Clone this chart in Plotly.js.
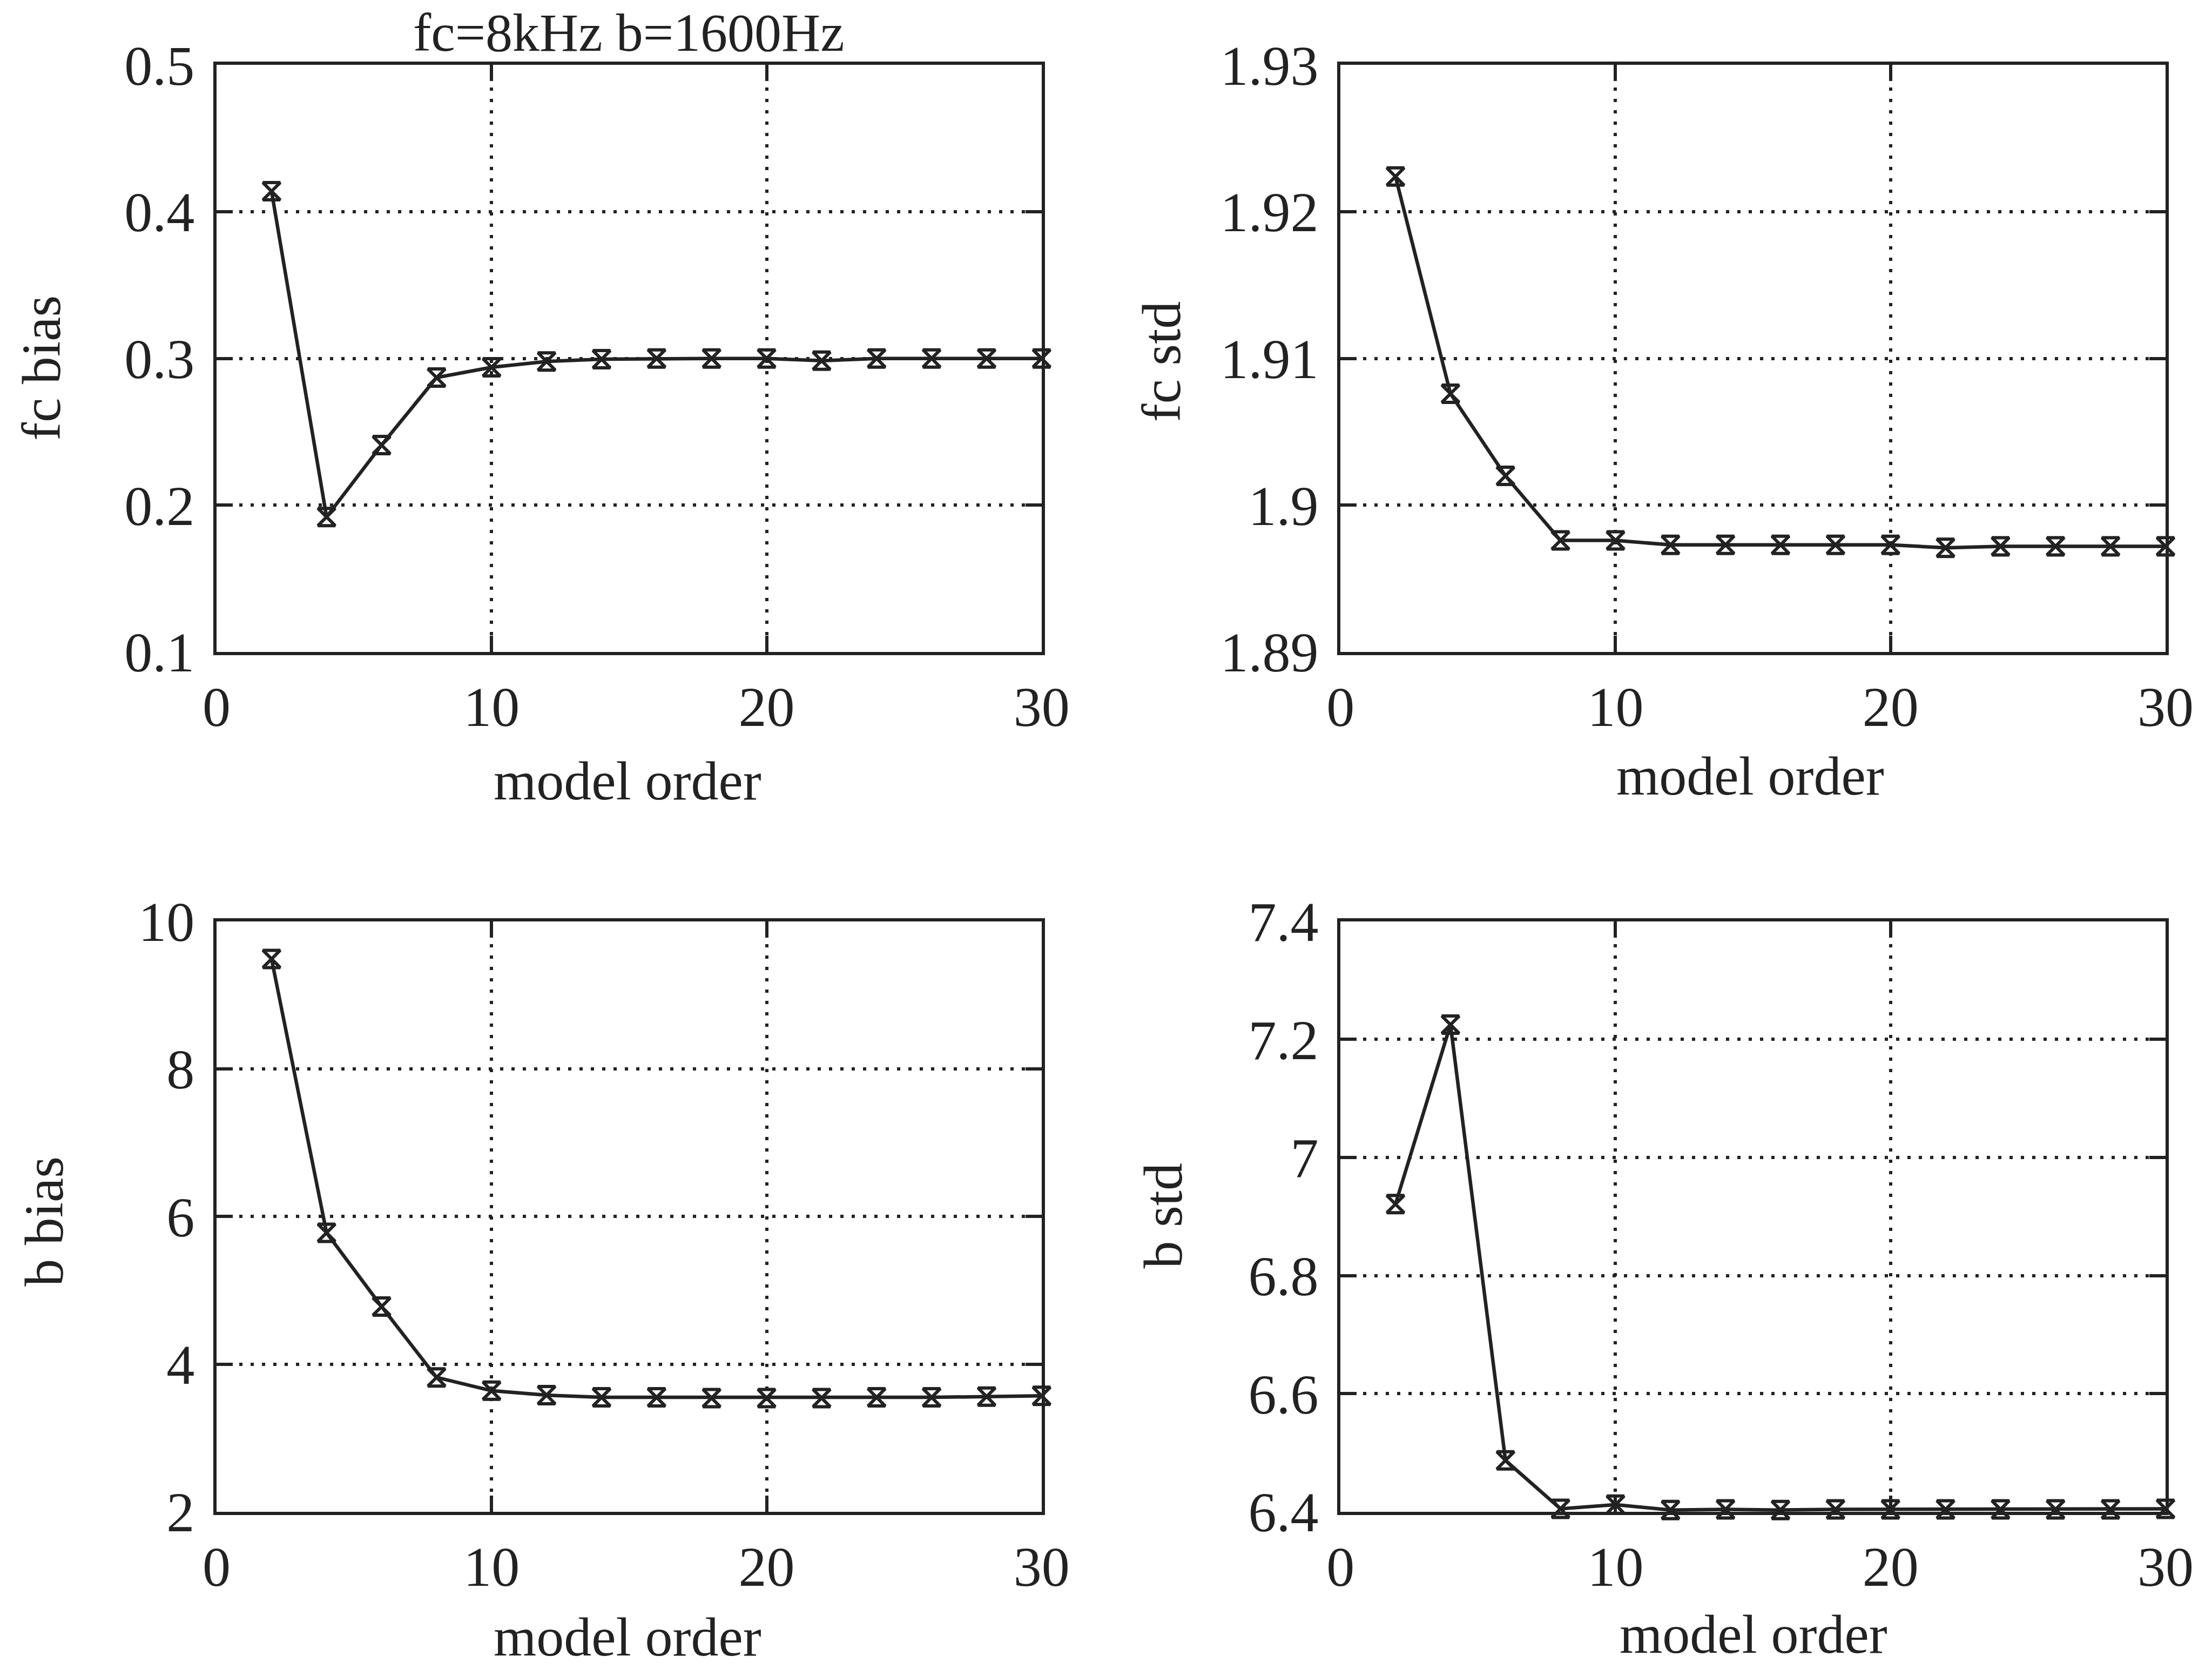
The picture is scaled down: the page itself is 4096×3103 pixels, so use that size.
<!DOCTYPE html>
<html>
<head>
<meta charset="utf-8">
<script src="https://cdn.plot.ly/plotly-3.0.1.min.js"></script>
<style>
  html, body { margin: 0; padding: 0; background: #ffffff; }
  #chart { width: 4096px; height: 3103px; }
</style>
</head>
<body>
<div id="chart"></div>
<script>
// Estimation error of the centre frequency (fc) and bandwidth (b) versus AR model order
const modelOrder = [2, 4, 6, 8, 10, 12, 14, 16, 18, 20, 22, 24, 26, 28, 30];

const fcBias = [0.414, 0.192, 0.241, 0.287, 0.294, 0.298, 0.2995, 0.300, 0.300, 0.300, 0.2985, 0.300, 0.300, 0.300, 0.300];
const fcStd  = [1.9224, 1.9076, 1.9020, 1.8976, 1.8976, 1.8973, 1.8973, 1.8973, 1.8973, 1.8973, 1.8971, 1.8972, 1.8972, 1.8972, 1.8972];
const bBias  = [9.49, 5.78, 4.78, 3.82, 3.64, 3.58, 3.55, 3.55, 3.54, 3.54, 3.54, 3.55, 3.55, 3.56, 3.57];
const bStd   = [6.921, 7.225, 6.487, 6.405, 6.412, 6.403, 6.404, 6.403, 6.404, 6.404, 6.404, 6.404, 6.404, 6.404, 6.405];

const xTickVals = [0, 10, 20, 30];
const xTickText = ['0', '10', '20', '30'];

const fcBiasTickVals = [0.1, 0.2, 0.3, 0.4, 0.5];
const fcBiasTickText = ['0.1', '0.2', '0.3', '0.4', '0.5'];
const fcStdTickVals  = [1.89, 1.90, 1.91, 1.92, 1.93];
const fcStdTickText  = ['1.89', '1.9', '1.91', '1.92', '1.93'];
const bBiasTickVals  = [2, 4, 6, 8, 10];
const bBiasTickText  = ['2', '4', '6', '8', '10'];
const bStdTickVals   = [6.4, 6.6, 6.8, 7.0, 7.2, 7.4];
const bStdTickText   = ['6.4', '6.6', '6.8', '7', '7.2', '7.4'];

const titleText = 'fc=8kHz b=1600Hz';
const xTitle = 'model order';
const yTitles = ['fc bias', 'fc std', 'b bias', 'b std'];

const INK = '#222222';
const FONT = 'Liberation Serif, Times New Roman, serif';

function series(y, xa, ya) {
  return {
    x: modelOrder, y: y, xaxis: xa, yaxis: ya,
    type: 'scatter', mode: 'lines+markers', cliponaxis: false,
    line: { color: INK, width: 6.5 },
    marker: { symbol: 'hourglass-open', size: 32, color: INK, line: { color: INK, width: 6 } },
    hoverinfo: 'skip', showlegend: false
  };
}

function axisBase() {
  return {
    showline: true, linecolor: INK, linewidth: 6, mirror: 'ticks',
    ticks: 'inside', ticklen: 30, tickwidth: 6, tickcolor: INK,
    showgrid: true, gridcolor: INK, gridwidth: 6, griddash: '6px,15px',
    zeroline: false, tickmode: 'array',
    tickfont: { family: FONT, size: 104, color: INK },
    fixedrange: true
  };
}

function xAxis(domain, anchor) {
  return Object.assign(axisBase(), {
    domain: domain, anchor: anchor, range: [0, 30],
    tickvals: xTickVals, ticktext: xTickText, ticklabelstandoff: 6
  });
}

function yAxis(domain, anchor, range, vals, text) {
  return Object.assign(axisBase(), {
    domain: domain, anchor: anchor, range: range,
    tickvals: vals, ticktext: text, ticklabelstandoff: 14
  });
}

const leftX = [0.0979, 0.4709];
const rightX = [0.6060, 0.9790];
const topY = [0.6110, 0.9612];
const botY = [0.0980, 0.4503];

const data = [
  series(fcBias, 'x', 'y'),
  series(fcStd, 'x2', 'y2'),
  series(bBias, 'x3', 'y3'),
  series(bStd, 'x4', 'y4')
];

function label(text, x, y, angle, size) {
  return {
    text: text, xref: 'paper', yref: 'paper', x: x, y: y,
    xanchor: 'center', yanchor: 'middle', showarrow: false,
    textangle: angle || 0,
    font: { family: FONT, size: size || 102, color: INK }
  };
}

const annotations = [
  label(titleText, 0.2844, 0.9805, 0, 100),
  label(xTitle, 0.2837, 0.5340),
  label(xTitle, 0.7913, 0.5370),
  label(xTitle, 0.2837, 0.0235),
  label(xTitle, 0.7927, 0.0250),
  label(yTitles[0], 0.0185, 0.7805, -90),
  label(yTitles[1], 0.5250, 0.7844, -90),
  label(yTitles[2], 0.0200, 0.2714, -90),
  label(yTitles[3], 0.5258, 0.2746, -90)
];

const layout = {
  width: 4096, height: 3103,
  margin: { l: 0, r: 0, t: 0, b: 0 },
  paper_bgcolor: '#ffffff', plot_bgcolor: '#ffffff',
  showlegend: false,
  xaxis:  xAxis(leftX, 'y'),
  yaxis:  yAxis(topY, 'x', [0.1, 0.5], fcBiasTickVals, fcBiasTickText),
  xaxis2: xAxis(rightX, 'y2'),
  yaxis2: yAxis(topY, 'x2', [1.89, 1.93], fcStdTickVals, fcStdTickText),
  xaxis3: xAxis(leftX, 'y3'),
  yaxis3: yAxis(botY, 'x3', [2, 10], bBiasTickVals, bBiasTickText),
  xaxis4: xAxis(rightX, 'y4'),
  yaxis4: yAxis(botY, 'x4', [6.4, 7.4], bStdTickVals, bStdTickText),
  annotations: annotations
};

Plotly.newPlot('chart', data, layout, { staticPlot: true, displayModeBar: false });
</script>
</body>
</html>
